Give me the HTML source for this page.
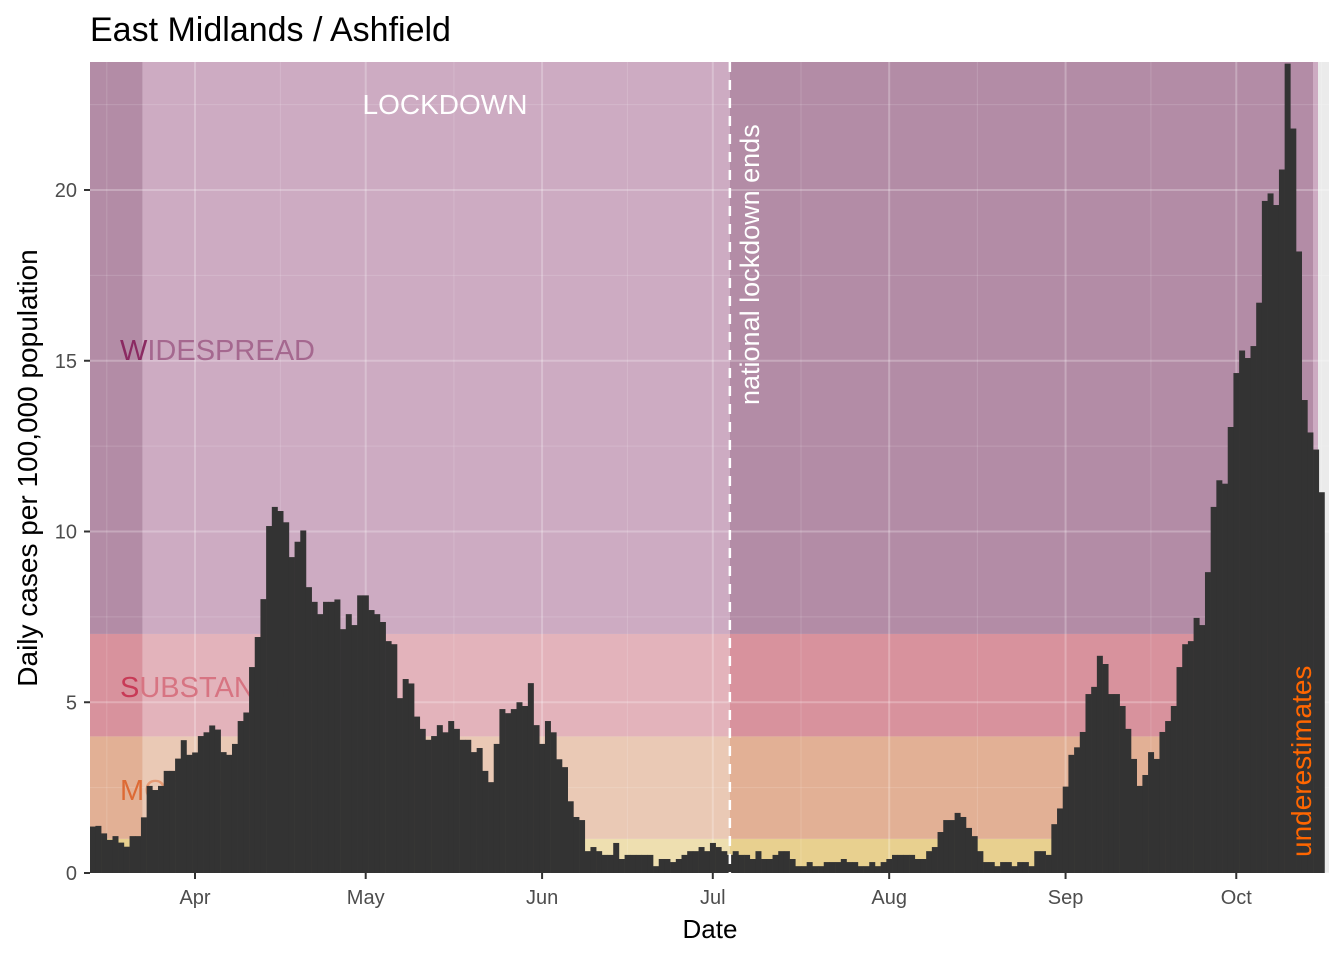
<!DOCTYPE html>
<html><head><meta charset="utf-8"><style>
body{margin:0;background:#fff;font-family:"Liberation Sans",Arial,sans-serif}
svg{display:block}
</style></head><body>
<svg id="chart" width="1344" height="960" xmlns="http://www.w3.org/2000/svg" font-family="Liberation Sans, Arial, sans-serif">
<defs><clipPath id="pc"><rect x="90" y="62" width="1239" height="811"/></clipPath></defs>
<text x="90" y="41" font-size="34" fill="#000">East Midlands / Ashfield</text>
<g id="panel" clip-path="url(#pc)"></g>
<g id="axes"></g>
<text x="710" y="938" font-size="26" text-anchor="middle" fill="#000">Date</text>
<text transform="translate(37,468) rotate(-90)" font-size="28" text-anchor="middle" fill="#000">Daily cases per 100,000 population</text>
</svg>
<script>
const values = [1.36,1.38,1.16,0.97,1.08,0.89,0.77,1.08,1.08,1.63,2.55,2.43,2.55,2.99,2.99,3.35,3.89,3.46,3.53,4.01,4.12,4.32,4.2,3.54,3.46,3.78,4.45,4.7,6.03,6.91,8.02,10.16,10.72,10.6,10.27,9.25,9.7,10.03,8.37,7.94,7.58,7.94,7.94,8.01,7.14,7.58,7.26,8.13,8.13,7.7,7.58,7.35,6.79,6.7,5.12,5.68,5.55,4.58,
4.22,3.9,4.01,4.33,4.12,4.45,4.22,3.9,3.9,3.54,3.66,2.99,2.66,3.78,4.8,4.68,4.8,5.0,4.89,5.56,4.33,3.78,4.45,4.12,3.33,3.1,2.1,1.64,1.55,0.64,0.76,0.64,0.53,0.53,0.88,0.41,0.53,0.53,0.53,0.53,0.53,0.2,0.41,0.41,0.32,0.41,0.53,0.64,0.64,0.76,0.64,0.88,0.76,0.64,0.53,
0.64,0.53,0.53,0.41,0.64,0.41,0.41,0.53,0.64,0.64,0.41,0.2,0.2,0.32,0.2,0.2,0.32,0.32,0.32,0.41,0.32,0.32,0.2,0.2,0.32,0.2,0.32,0.41,0.53,0.53,0.53,0.53,0.41,0.41,0.64,0.76,1.2,1.55,1.55,1.76,1.64,1.32,1.08,0.64,0.32,0.32,0.2,0.32,0.32,0.2,0.32,0.32,0.2,0.64,0.64,0.53,
1.43,1.89,2.53,3.46,3.68,4.13,5.24,5.45,6.36,6.12,5.24,5.24,4.89,4.22,3.34,2.55,2.87,3.54,3.34,4.13,4.45,4.89,6.03,6.7,6.79,7.47,7.26,8.81,10.72,11.5,11.4,13.06,14.64,15.3,15.08,15.43,16.7,19.68,19.9,19.56,20.6,23.7,21.8,18.2,13.85,12.9,12.4,11.15];
const startDay = -18; // days relative to Apr 1 (Mar 14)
const monthLabels = ["Apr","May","Jun","Jul","Aug","Sep","Oct"];
const monthDays = [0,30,61,91,122,153,183];
const yTicks = [0,5,10,15,20];
const zoneBreaks = [0,1,4,7,23.75];
const lockdownStart = -9.2, lockdownEnd = 94, underestStart = 197.5;

const NS="http://www.w3.org/2000/svg";
const X0=90, X1=1329, Y0=873, Y1=62;
const pxDay=5.69;
const x = d => 195 + d*pxDay;
const y = v => 873 - v*34.15;
const panel=document.getElementById('panel'), axes=document.getElementById('axes');
function mk(tag, attrs, parent){const e=document.createElementNS(NS,tag);for(const k in attrs)e.setAttribute(k,attrs[k]);parent.appendChild(e);return e;}

mk('rect',{x:X0,y:Y1,width:X1-X0,height:Y0-Y1,fill:'#ebebeb'},panel);
const light=['#eedfb0','#eac9b5','#e3b3bb','#cdabc2'];
const dark=['#e8d08f','#e2b095','#d8929d','#b38ca6'];
const segs=[[X0,x(lockdownStart),dark],[x(lockdownStart),x(lockdownEnd),light],[x(lockdownEnd),1313,dark],[1313,1318,light]];
segs.forEach(s=>{for(let z=0;z<4;z++){
  const top=Math.max(Y1,y(zoneBreaks[z+1])), bot=y(zoneBreaks[z]);
  const r=mk('rect',{x:s[0],y:top,width:s[1]-s[0],height:bot-top,fill:s[2][z]},panel);
  
  
}});
for(let v=0;v<=22.5;v+=2.5){mk('line',{x1:X0,x2:X1,y1:y(v),y2:y(v),stroke:'#fff','stroke-opacity':v%5===0?0.25:0.15,'stroke-width':v%5===0?2:1},panel);}
const minorDays=[-15.5,15,45.5,76,106.5,137.5,168,198];
minorDays.forEach(d=>{mk('line',{x1:x(d),x2:x(d),y1:Y1,y2:Y0,stroke:'#fff','stroke-opacity':0.15,'stroke-width':1},panel);});
monthDays.forEach(d=>mk('line',{x1:x(d),x2:x(d),y1:Y1,y2:Y0,stroke:'#fff','stroke-opacity':0.25,'stroke-width':2},panel));
function zl(t1,t2,yy,c1,c2,name){const t=mk('text',{x:120,y:yy,'font-size':29},panel);
 const a=mk('tspan',{fill:c1},t);a.textContent=t1;const b=mk('tspan',{fill:c2},t);b.textContent=t2;}
zl('W','IDESPREAD',360,'#8b2a62','#a5688f','widespread-label');
zl('S','UBSTANTIAL',697,'#c83a56','#d77482','substantial-label');
zl('M','ODERATE',800,'#dd6a35','#e59a74','moderate-label');
values.forEach((v,i)=>{const d=startDay+i;
 const r=mk('rect',{x:x(d-0.5),y:y(v),width:pxDay+0.3,height:Y0-y(v),fill:'#333333'},panel);
 
 });
const lx=x(lockdownEnd);
const dl=mk('line',{x1:lx,x2:lx,y1:Y1,y2:Y0,stroke:'#fff','stroke-width':2.5,'stroke-dasharray':'10,8'},panel);


const lt=mk('text',{x:445,y:114,'font-size':28,fill:'#fff','text-anchor':'middle'},panel);lt.textContent='LOCKDOWN';


const nl=mk('text',{transform:'translate(759,405) rotate(-90)','font-size':27,fill:'#fff'},panel);nl.textContent='national lockdown ends';


const ue=mk('text',{transform:'translate(1311,857) rotate(-90)','font-size':28,fill:'#ff6600'},panel);ue.textContent='underestimates';


yTicks.forEach(v=>{mk('line',{x1:84,x2:X0,y1:y(v),y2:y(v),stroke:'#333','stroke-width':2},axes);
 const t=mk('text',{x:77,y:y(v)+7,'font-size':20,fill:'#4d4d4d','text-anchor':'end'},axes);t.textContent=v;
 
 });
monthDays.forEach((d,i)=>{mk('line',{x1:x(d),x2:x(d),y1:Y0,y2:Y0+6,stroke:'#333','stroke-width':2},axes);
 const t=mk('text',{x:x(d),y:904,'font-size':20,fill:'#4d4d4d','text-anchor':'middle'},axes);t.textContent=monthLabels[i];
 
 });
</script>
</body></html>
